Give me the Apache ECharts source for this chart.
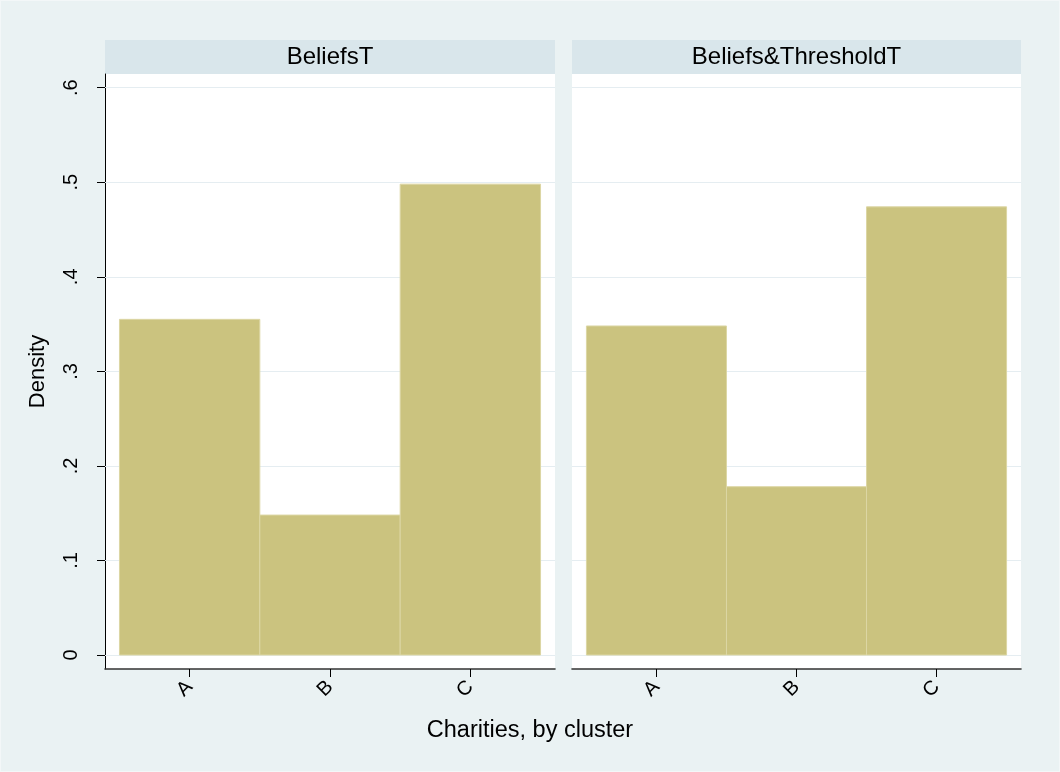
<!DOCTYPE html>
<html>
<head>
<meta charset="utf-8">
<script src="https://cdn.jsdelivr.net/npm/echarts@6/dist/echarts.min.js"></script>
<style>
  html, body { margin: 0; padding: 0; background: #eaf2f3; }
  #chart { width: 1060px; height: 772px; }
  #frame { position: absolute; left: 0; top: 0; width: 1058px; height: 770px; border: 1px solid #f3f7f8; pointer-events: none; }
</style>
</head>
<body>
<div id="chart"></div>
<div id="frame"></div>
<script>
// ---- data ----
const categories = ['A', 'B', 'C'];
const binCenters = [1, 2, 3];
const binWidth = 1;
const panelTitles = ['BeliefsT', 'Beliefs&ThresholdT'];
const densityBeliefsT = [0.355, 0.148, 0.498];
const densityBeliefsThresholdT = [0.348, 0.178, 0.474];
const yTickValues = [0, 0.1, 0.2, 0.3, 0.4, 0.5, 0.6];
const yTickLabels = ['0', '.1', '.2', '.3', '.4', '.5', '.6'];
const yTitle = 'Density';
const xTitle = 'Charities, by cluster';

// ---- style / layout ----
const FONT = '"Liberation Sans", Arial, sans-serif';
const BAR_FILL = '#cbc37f';
const BAR_EDGE = '#dcd6a4';
const GRID_COLOR = '#e5edf1';
const STRIP_COLOR = '#d9e6eb';
const panels = [
  { left: 105, width: 450, values: densityBeliefsT, yAxisLine: true },
  { left: 572, width: 449, values: densityBeliefsThresholdT, yAxisLine: false }
];
const gridTop = 74, gridBottomY = 669;

const chart = echarts.init(document.getElementById('chart'), null, { renderer: 'canvas' });

const grids = [], xAxes = [], yAxes = [], series = [], graphics = [];
panels.forEach((p, i) => {
  grids.push({
    left: p.left, top: gridTop, width: p.width, height: gridBottomY - gridTop,
    show: true, backgroundColor: '#ffffff', borderWidth: 0, containLabel: false
  });
  xAxes.push({
    type: 'value', gridIndex: i, min: 0.397, max: 3.603,
    axisLine: { show: true, onZero: false, lineStyle: { color: '#333333', width: 1.6 } },
    axisTick: { show: true, customValues: binCenters, length: 8, lineStyle: { color: '#000', width: 1 } },
    axisLabel: {
      show: true, customValues: binCenters, rotate: 45, margin: 15,
      formatter: v => categories[binCenters.indexOf(v)],
      fontFamily: FONT, fontSize: 20, color: '#000'
    },
    splitLine: { show: false }
  });
  yAxes.push({
    type: 'value', gridIndex: i, min: -0.0148, max: 0.6145,
    axisLine: { show: p.yAxisLine, onZero: false, lineStyle: { color: '#000', width: 1 } },
    axisTick: { show: p.yAxisLine, customValues: yTickValues, length: 8, lineStyle: { color: '#000', width: 1 } },
    axisLabel: {
      show: p.yAxisLine, customValues: yTickValues, rotate: 90, margin: 24,
      formatter: v => yTickLabels[yTickValues.indexOf(v)],
      fontFamily: FONT, fontSize: 20, color: '#000'
    },
    splitLine: { show: false },
    name: p.yAxisLine ? yTitle : '',
    nameLocation: 'middle', nameGap: 56,
    nameTextStyle: { fontFamily: FONT, fontSize: 22, color: '#000' }
  });
  // gridlines
  series.push({
    type: 'line', xAxisIndex: i, yAxisIndex: i, data: [], z: 1, silent: true,
    markLine: {
      silent: true, symbol: 'none', z: 1, animation: false,
      label: { show: false },
      lineStyle: { color: GRID_COLOR, width: 1, type: 'solid' },
      data: yTickValues.map(v => ({ yAxis: v }))
    }
  });
  // histogram bars
  series.push({
    type: 'custom', xAxisIndex: i, yAxisIndex: i, z: 3,
    data: binCenters.map((c, k) => [c, p.values[k]]),
    renderItem: (params, api) => {
      const c = api.value(0), v = api.value(1);
      const tl = api.coord([c - binWidth / 2, v]);
      const br = api.coord([c + binWidth / 2, 0]);
      return {
        type: 'rect',
        shape: { x: tl[0], y: tl[1], width: br[0] - tl[0], height: br[1] - tl[1] },
        style: { fill: BAR_FILL, stroke: BAR_EDGE, lineWidth: 1 }
      };
    },
    animation: false
  });
  // strip header
  graphics.push({
    type: 'rect', left: p.left, top: 40,
    shape: { width: p.width, height: gridTop - 40 },
    style: { fill: STRIP_COLOR }, z: 0
  });
  graphics.push({
    type: 'text', x: p.left + p.width / 2, y: 57,
    style: { text: panelTitles[i], fill: '#000', font: '24px ' + FONT, textAlign: 'center', textVerticalAlign: 'middle' },
    z: 1
  });
});
graphics.push({
  type: 'text', x: 530, y: 731,
  style: { text: xTitle, fill: '#000', font: '23.5px ' + FONT, textAlign: 'center', textVerticalAlign: 'middle' }
});

chart.setOption({
  backgroundColor: '#eaf2f3',
  animation: false,
  grid: grids,
  xAxis: xAxes,
  yAxis: yAxes,
  series: series,
  graphic: graphics
});
</script>
</body>
</html>
